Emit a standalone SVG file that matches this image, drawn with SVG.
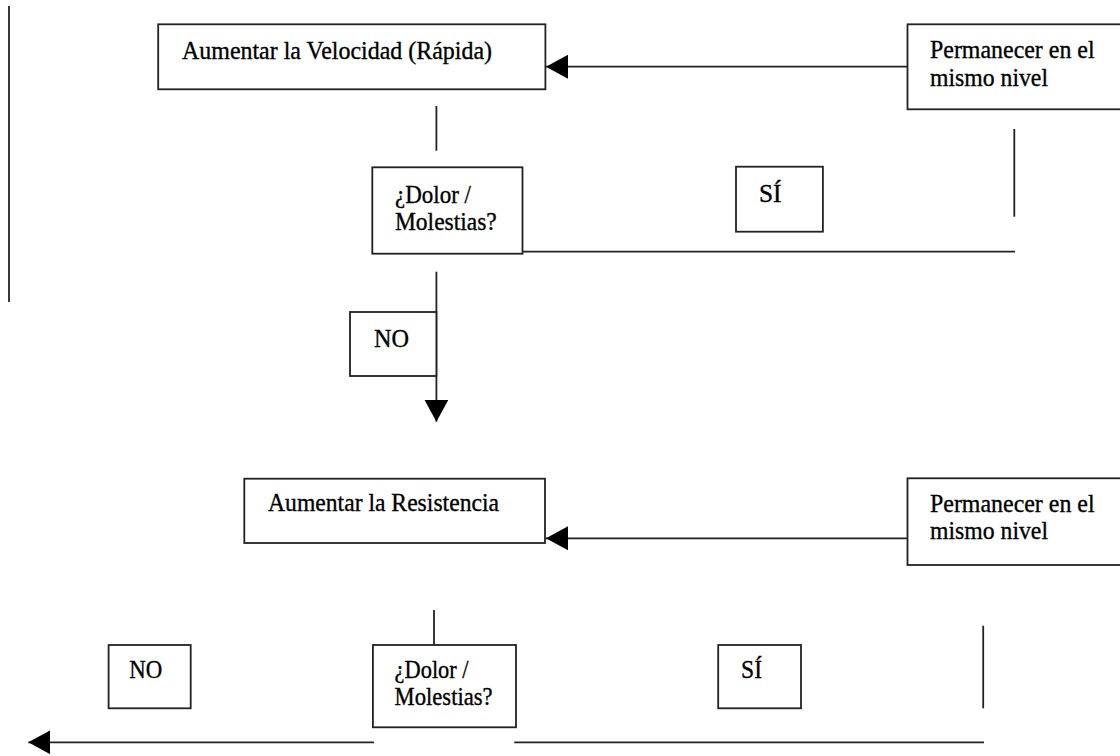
<svg xmlns="http://www.w3.org/2000/svg" width="1120" height="756" viewBox="0 0 1120 756">
  <style>
    .box { fill: #ffffff; stroke: #222222; stroke-width: 1.8; }
    .lbl { font-family: 'Liberation Serif', 'DejaVu Serif', serif; font-size: 25.5px; fill: #000000; stroke: #000000; stroke-width: 0.35; }
    .ln { fill: none; stroke: #222222; stroke-width: 1.8; }
  </style>
  <defs>
    <marker id="ah" markerUnits="userSpaceOnUse" markerWidth="24" markerHeight="26" refX="22" refY="12" orient="auto">
      <path d="M0,0 L22,12 L0,24 Z" fill="#000000"/>
    </marker>
  </defs>
  <rect width="1120" height="756" fill="#ffffff"/>

  <g id="connectors">
    <line class="ln" x1="9" y1="6" x2="9" y2="302"/>
    <line class="ln" x1="907.5" y1="66.7" x2="546" y2="66.7" marker-end="url(#ah)"/>
    <line class="ln" x1="436.4" y1="106" x2="436.4" y2="150.7"/>
    <line class="ln" x1="1014.3" y1="129" x2="1014.3" y2="216.7"/>
    <line class="ln" x1="522.5" y1="251.7" x2="1015" y2="251.7"/>
    <line class="ln" x1="436.4" y1="271.7" x2="436.4" y2="421.7" marker-end="url(#ah)"/>
    <line class="ln" x1="907.5" y1="538.3" x2="546" y2="538.3" marker-end="url(#ah)"/>
    <line class="ln" x1="434" y1="610" x2="434" y2="645"/>
    <line class="ln" x1="983.2" y1="625.7" x2="983.2" y2="708.3"/>
    <line class="ln" x1="374" y1="742.3" x2="28.3" y2="742.3" marker-end="url(#ah)"/>
    <line class="ln" x1="514.3" y1="742.3" x2="984" y2="742.3"/>
  </g>

  <g id="n-velocidad">
    <rect class="box" x="158.2" y="24.3" width="387.2" height="65"/>
    <text class="lbl" x="182" y="59.3" textLength="310" lengthAdjust="spacingAndGlyphs">Aumentar la Velocidad (Rápida)</text>
  </g>

  <g id="n-permanecer1">
    <rect class="box" x="907.5" y="24.3" width="220" height="85"/>
    <text class="lbl" x="930" y="58.3" textLength="164.6" lengthAdjust="spacingAndGlyphs">Permanecer en el</text>
    <text class="lbl" x="930" y="86" textLength="118" lengthAdjust="spacingAndGlyphs">mismo nivel</text>
  </g>

  <g id="n-dolor1">
    <rect class="box" x="372.3" y="167.3" width="150.2" height="86.4"/>
    <text class="lbl" x="395" y="203.3" textLength="76" lengthAdjust="spacingAndGlyphs">¿Dolor /</text>
    <text class="lbl" x="395" y="230" textLength="101.7" lengthAdjust="spacingAndGlyphs">Molestias?</text>
  </g>

  <g id="n-si1">
    <rect class="box" x="736" y="166.7" width="86.9" height="65"/>
    <text class="lbl" x="759" y="201.7" textLength="22.5" lengthAdjust="spacingAndGlyphs">SÍ</text>
  </g>

  <g id="n-no1">
    <rect class="box" x="350" y="312" width="86.4" height="64"/>
    <text class="lbl" x="374" y="347.3" textLength="35" lengthAdjust="spacingAndGlyphs">NO</text>
  </g>

  <g id="n-resistencia">
    <rect class="box" x="244.3" y="478.7" width="300.7" height="64.3"/>
    <text class="lbl" x="268" y="510.7" textLength="231" lengthAdjust="spacingAndGlyphs">Aumentar la Resistencia</text>
  </g>

  <g id="n-permanecer2">
    <rect class="box" x="907.5" y="478.3" width="220" height="86.7"/>
    <text class="lbl" x="930" y="511.7" textLength="164.6" lengthAdjust="spacingAndGlyphs">Permanecer en el</text>
    <text class="lbl" x="930" y="539.3" textLength="118" lengthAdjust="spacingAndGlyphs">mismo nivel</text>
  </g>

  <g id="n-dolor2">
    <rect class="box" x="372.9" y="645" width="143.1" height="82.3"/>
    <text class="lbl" x="394.6" y="678.3" textLength="74" lengthAdjust="spacingAndGlyphs">¿Dolor /</text>
    <text class="lbl" x="394.6" y="705" textLength="98" lengthAdjust="spacingAndGlyphs">Molestias?</text>
  </g>

  <g id="n-no2">
    <rect class="box" x="108.6" y="645" width="82.1" height="63.3"/>
    <text class="lbl" x="129.3" y="678.3" textLength="33" lengthAdjust="spacingAndGlyphs">NO</text>
  </g>

  <g id="n-si2">
    <rect class="box" x="718.2" y="645" width="82.8" height="63.3"/>
    <text class="lbl" x="741" y="677.7" textLength="21" lengthAdjust="spacingAndGlyphs">SÍ</text>
  </g>
</svg>
